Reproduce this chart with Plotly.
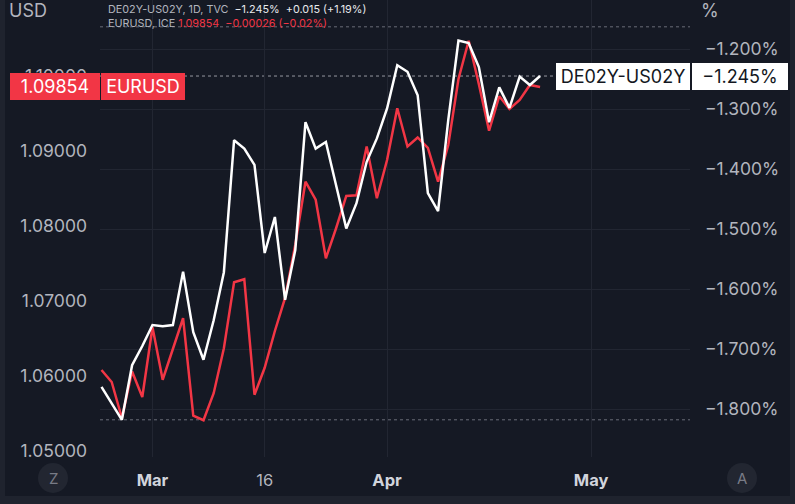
import plotly.graph_objects as go

# ---------------- data ----------------
dates = [
    "2023-02-22", "2023-02-23", "2023-02-24", "2023-02-27", "2023-02-28",
    "2023-03-01", "2023-03-02", "2023-03-03", "2023-03-06", "2023-03-07",
    "2023-03-08", "2023-03-09", "2023-03-10", "2023-03-13", "2023-03-14",
    "2023-03-15", "2023-03-16", "2023-03-17", "2023-03-20", "2023-03-21",
    "2023-03-22", "2023-03-23", "2023-03-24", "2023-03-27", "2023-03-28",
    "2023-03-29", "2023-03-30", "2023-03-31", "2023-04-03", "2023-04-04",
    "2023-04-05", "2023-04-06", "2023-04-07", "2023-04-10", "2023-04-11",
    "2023-04-12", "2023-04-13", "2023-04-14", "2023-04-17", "2023-04-18",
    "2023-04-19", "2023-04-20", "2023-04-21", "2023-04-24",
]

spread_de_us = [  # DE02Y-US02Y, %
    -1.763, -1.790, -1.818, -1.727, -1.695, -1.660, -1.662, -1.660, -1.571, -1.672,
    -1.718, -1.652, -1.572, -1.352, -1.366, -1.393, -1.540, -1.480, -1.618, -1.535,
    -1.322, -1.366, -1.355, -1.427, -1.499, -1.457, -1.388, -1.349, -1.299, -1.227,
    -1.238, -1.277, -1.440, -1.470, -1.318, -1.186, -1.190, -1.230, -1.322, -1.264,
    -1.298, -1.246, -1.260, -1.245,
]

eurusd = [
    1.0608, 1.0592, 1.0544, 1.0606, 1.0572, 1.0665, 1.0595, 1.0636, 1.0677, 1.0547,
    1.0541, 1.0577, 1.0637, 1.0725, 1.0729, 1.0575, 1.0611, 1.0660, 1.0704, 1.0775,
    1.0859, 1.0835, 1.0757, 1.0797, 1.0840, 1.0841, 1.0906, 1.0837, 1.0888, 1.0957,
    1.0906, 1.0918, 1.0904, 1.0859, 1.0908, 1.0996, 1.1047, 1.0989, 1.0927, 1.0973,
    1.0956, 1.0968, 1.0988, 1.09854,
]

x_tick_dates = ["2023-03-01", "2023-03-16", "2023-04-03", "2023-05-01"]
x_tick_labels = ["Mar", "16", "Apr", "May"]
x_tick_bold = [True, False, True, True]

left_ticks = [1.05, 1.06, 1.07, 1.08, 1.09, 1.10]
right_ticks = [-1.8, -1.7, -1.6, -1.5, -1.4, -1.3, -1.2]

upper_marker_level = -1.163  # dotted range line near top (right scale)

# ---------------- style ----------------
BG = "#151924"
FRAME = "#1f232e"
GRID = "#222632"
TXT = "#b2b5be"
RED = "#f23645"
WHITE = "#ffffff"
FONT = "Inter, Roboto, 'DejaVu Sans', sans-serif"

W, H = 795, 504
ML, MR, MT, MB = 100, 105, 0, 47
PW, PH = W - ML - MR, H - MT - MB


def px(x):
    return (x - ML) / PW


def py(y):
    return (H - MB - y) / PH


def minus(s):
    return s.replace("-", "\u2212")


NB = "\u00a0"

fig = go.Figure()

fig.add_trace(go.Scatter(
    x=dates, y=eurusd, mode="lines", name="EURUSD",
    line=dict(color=RED, width=2.5), yaxis="y", hoverinfo="skip",
))
fig.add_trace(go.Scatter(
    x=dates, y=spread_de_us, mode="lines", name="DE02Y-US02Y",
    line=dict(color=WHITE, width=2.5), yaxis="y2", hoverinfo="skip",
))

ticktext_x = [
    f"<b><span style='color:#d1d4dc'>{t}</span></b>" if b else f"<span style='color:{TXT}'>{t}</span>"
    for t, b in zip(x_tick_labels, x_tick_bold)
]

fig.update_layout(
    width=W, height=H, autosize=False,
    margin=dict(l=ML, r=MR, t=MT, b=MB, pad=0, autoexpand=False),
    paper_bgcolor=BG, plot_bgcolor=BG,
    showlegend=False,
    font=dict(family=FONT, color=TXT, size=16),
    xaxis=dict(
        type="date",
        range=["2023-02-21 20:30", "2023-05-12 16:48"],
        rangebreaks=[dict(bounds=["sat", "mon"])],
        tickmode="array", tickvals=x_tick_dates, ticktext=ticktext_x,
        showgrid=True, gridcolor=GRID, gridwidth=1,
        zeroline=False, showline=False, ticks="",
        tickfont=dict(size=16.5, family=FONT),
        ticklabelstandoff=11,
        fixedrange=True,
    ),
    yaxis=dict(
        side="left",
        range=[1.0492, 1.11013],
        tickmode="array", tickvals=left_ticks,
        ticktext=[f"{v:.5f}" for v in left_ticks],
        showgrid=False, zeroline=False, showline=False, ticks="",
        tickfont=dict(size=17.5, color=TXT, family=FONT),
        ticklabelstandoff=12,
    ),
    yaxis2=dict(
        overlaying="y", side="right",
        range=[-1.88, -1.1183],
        tickmode="array", tickvals=right_ticks,
        ticktext=[minus(f"{v:.3f}%") for v in right_ticks],
        showgrid=True, gridcolor=GRID, gridwidth=1,
        zeroline=False, showline=False, ticks="",
        tickfont=dict(size=17.5, color=TXT, family=FONT),
        ticklabelstandoff=14,
    ),
)

shapes = []
# outer frame bands
shapes.append(dict(type="rect", xref="paper", yref="paper", x0=px(0), x1=px(5), y0=py(H), y1=py(0),
                   fillcolor=FRAME, line=dict(width=0), layer="below"))
shapes.append(dict(type="rect", xref="paper", yref="paper", x0=px(790), x1=px(W), y0=py(H), y1=py(0),
                   fillcolor=FRAME, line=dict(width=0), layer="below"))
shapes.append(dict(type="rect", xref="paper", yref="paper", x0=px(0), x1=px(W), y0=py(H), y1=py(496),
                   fillcolor=FRAME, line=dict(width=0), layer="below"))
# dotted range lines
shapes.append(dict(type="line", xref="paper", yref="y2", x0=0, x1=1,
                   y0=upper_marker_level, y1=upper_marker_level,
                   line=dict(color="#6a6d78", width=1, dash="dot"), layer="below"))
shapes.append(dict(type="line", xref="paper", yref="y2", x0=0, x1=1,
                   y0=min(spread_de_us), y1=min(spread_de_us),
                   line=dict(color="#6a6d78", width=1, dash="dot"), layer="below"))
# last value line of spread
shapes.append(dict(type="line", xref="paper", yref="y2", x0=0, x1=px(556),
                   y0=spread_de_us[-1], y1=spread_de_us[-1],
                   line=dict(color="#9598a1", width=1, dash="dot"), layer="below"))
# Z / A circles
for cx in (53, 742):
    shapes.append(dict(type="circle", xref="paper", yref="paper",
                       x0=px(cx - 15), x1=px(cx + 15), y0=py(493), y1=py(463),
                       fillcolor="#222631", line=dict(width=0), layer="above"))
fig.update_layout(shapes=shapes)

w_last, w_prev = spread_de_us[-1], spread_de_us[-2]
e_last, e_prev = eurusd[-1], eurusd[-2]
w_chg = w_last - w_prev
w_pct = w_chg / abs(w_prev) * 100
e_chg = e_last - e_prev
e_pct = e_chg / e_prev * 100

line1 = (f"<span style='color:{TXT}'>DE02Y-US02Y, 1D, TVC</span>{NB}{NB}"
         f"<span style='color:#e8e9ec'>{minus(f'{w_last:.3f}%')}{NB}{NB}"
         f"{minus(f'{w_chg:+.3f}')} ({minus(f'{w_pct:+.2f}%')})</span>")
line2 = (f"<span style='color:{TXT}'>EURUSD, ICE</span>{NB}"
         f"<span style='color:{RED}'>{e_last:.5f}{NB}{NB}"
         f"{minus(f'{e_chg:+.5f}')} ({minus(f'{e_pct:+.2f}%')})</span>")

ann = []
ann.append(dict(text="USD", xref="paper", yref="paper", x=px(7), y=py(11), xanchor="left", yanchor="middle",
                showarrow=False, font=dict(size=18, color=TXT, family=FONT)))
ann.append(dict(text="%", xref="paper", yref="paper", x=px(699), y=py(11), xanchor="left", yanchor="middle",
                showarrow=False, font=dict(size=18, color=TXT, family=FONT)))
ann.append(dict(text=line1, xref="paper", yref="paper", x=px(106), y=py(9), xanchor="left", yanchor="middle",
                showarrow=False, font=dict(size=10.8, family=FONT)))
ann.append(dict(text=line2, xref="paper", yref="paper", x=px(106), y=py(24), xanchor="left", yanchor="middle",
                showarrow=False, font=dict(size=10.8, family=FONT)))
# red price labels
ann.append(dict(text=f"{e_last:.5f}", xref="paper", yref="y", x=px(10), y=e_last,
                xanchor="left", yanchor="middle", showarrow=False, width=90, height=27,
                bgcolor=RED, borderpad=0, borderwidth=0, align="center",
                font=dict(size=18, color="#ffffff", family=FONT)))
ann.append(dict(text="EURUSD", xref="paper", yref="y", x=px(101), y=e_last,
                xanchor="left", yanchor="middle", showarrow=False, width=84, height=27,
                bgcolor=RED, borderpad=0, borderwidth=0, align="center",
                font=dict(size=18, color="#ffffff", family=FONT)))
# white price labels
ann.append(dict(text="DE02Y-US02Y", xref="paper", yref="y2", x=px(556), y=w_last,
                xanchor="left", yanchor="middle", showarrow=False, width=134, height=27,
                bgcolor="#ffffff", borderpad=0, borderwidth=0, align="center",
                font=dict(size=18, color="#131722", family=FONT)))
ann.append(dict(text=minus(f"{w_last:.3f}%"), xref="paper", yref="y2", x=px(692), y=w_last,
                xanchor="left", yanchor="middle", showarrow=False, width=96, height=27,
                bgcolor="#ffffff", borderpad=0, borderwidth=0, align="center",
                font=dict(size=18, color="#131722", family=FONT)))
# Z / A letters
for cx, letter in ((53, "Z"), (742, "A")):
    ann.append(dict(text=letter, xref="paper", yref="paper", x=px(cx), y=py(478),
                    xanchor="center", yanchor="middle", showarrow=False,
                    font=dict(size=15, color="#787b86", family=FONT)))
fig.update_layout(annotations=ann)

fig.write_html(
    "out.html",
    config={"displayModeBar": False, "staticPlot": False},
    post_script="document.body.style.margin='0';document.body.style.overflow='hidden';"
                "document.body.style.background='" + BG + "';",
)
